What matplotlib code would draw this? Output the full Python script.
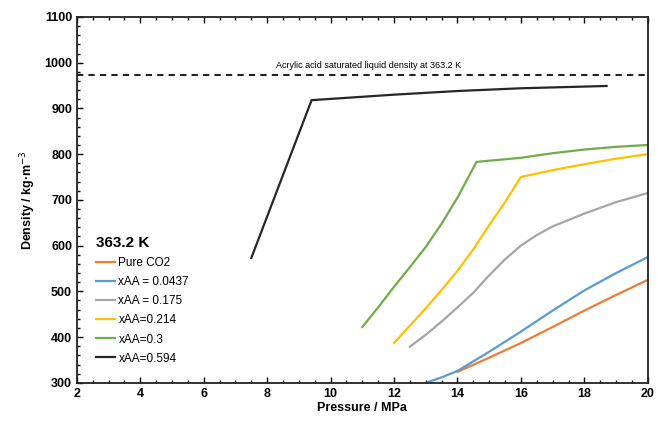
import numpy as np
import matplotlib.pyplot as plt
from matplotlib.ticker import MultipleLocator

plt.rcParams['font.family'] = ['Liberation Sans', 'DejaVu Sans']

# 讀圖估計的數據 (Pressure / MPa, Density / kg·m-3)
p_co2 = [14.0, 15.0, 16.0, 17.0, 18.0, 19.0, 20.0]
d_co2 = [324, 355, 387, 422, 458, 492, 525]

p_0437 = [13.0, 13.5, 14.0, 15.0, 16.0, 17.0, 18.0, 19.0, 20.0]
d_0437 = [300, 312, 326, 368, 412, 458, 502, 540, 575]

p_175 = [12.5, 13.0, 13.5, 14.0, 14.5, 15.0, 15.5, 16.0, 16.5, 17.0, 18.0, 19.0, 20.0]
d_175 = [379, 405, 434, 465, 497, 535, 570, 600, 623, 642, 670, 695, 715]

p_214 = [12.0, 12.5, 13.0, 13.5, 14.0, 14.5, 15.0, 15.5, 16.0, 17.0, 18.0, 19.0, 20.0]
d_214 = [387, 425, 463, 503, 545, 592, 645, 695, 750, 765, 778, 790, 800]

p_3 = [11.0, 11.5, 12.0, 12.5, 13.0, 13.5, 14.0, 14.6, 16.0, 17.0, 18.0, 19.0, 20.0]
d_3 = [422, 465, 510, 553, 597, 648, 705, 783, 792, 802, 810, 816, 820]

p_594 = [7.5, 9.4, 12.0, 14.0, 16.0, 18.7]
d_594 = [573, 918, 930, 938, 944, 949]

aa_sat = 973

series = [
    (p_co2, d_co2, 'Pure CO2', '#ED7D31'),
    (p_0437, d_0437, 'xAA = 0.0437', '#5B9BD5'),
    (p_175, d_175, 'xAA = 0.175', '#A5A5A5'),
    (p_214, d_214, 'xAA=0.214', '#FFC000'),
    (p_3, d_3, 'xAA=0.3', '#70AD47'),
    (p_594, d_594, 'xAA=0.594', '#262626'),
]

fig = plt.figure(figsize=(6.57, 4.23), dpi=100)
ax = fig.add_axes([0.117, 0.095, 0.869, 0.865])

for x, y, lab, c in series:
    ax.plot(x, y, color=c, lw=1.6, label=lab)

# 飽和液體密度虛線
ax.axhline(aa_sat, color='#222222', lw=1.5, ls=(0, (3, 2.5)))
ax.text(11.2, 985, 'Acrylic acid saturated liquid density at 363.2 K',
        ha='center', va='bottom', fontsize=6.5)

ax.set_xlim(2, 20)
ax.set_ylim(300, 1100)
ax.xaxis.set_major_locator(MultipleLocator(2))
ax.xaxis.set_minor_locator(MultipleLocator(0.5))
ax.yaxis.set_major_locator(MultipleLocator(100))
ax.yaxis.set_minor_locator(MultipleLocator(20))
ax.tick_params(which='both', direction='in', top=True, right=False,
               labelsize=9, width=1)
ax.tick_params(which='major', length=4)
ax.tick_params(which='minor', length=2)
for lab in ax.get_xticklabels() + ax.get_yticklabels():
    lab.set_fontweight('bold')
for s in ax.spines.values():
    s.set_linewidth(1.3)
    s.set_color('#222222')

ax.set_xlabel('Pressure / MPa', fontsize=9, fontweight='bold', labelpad=2)
ax.set_ylabel('Density / kg·m$^{-3}$', fontsize=9, fontweight='bold', labelpad=4)

leg = ax.legend(loc='upper left', bbox_to_anchor=(0.015, 0.43), frameon=False,
                fontsize=8.5, handlelength=1.6, handletextpad=0.3,
                labelspacing=0.6, title='363.2 K',
                title_fontproperties={'weight': 'bold', 'size': 11})
leg._legend_box.align = 'left'

plt.savefig('out.png', dpi=100)
